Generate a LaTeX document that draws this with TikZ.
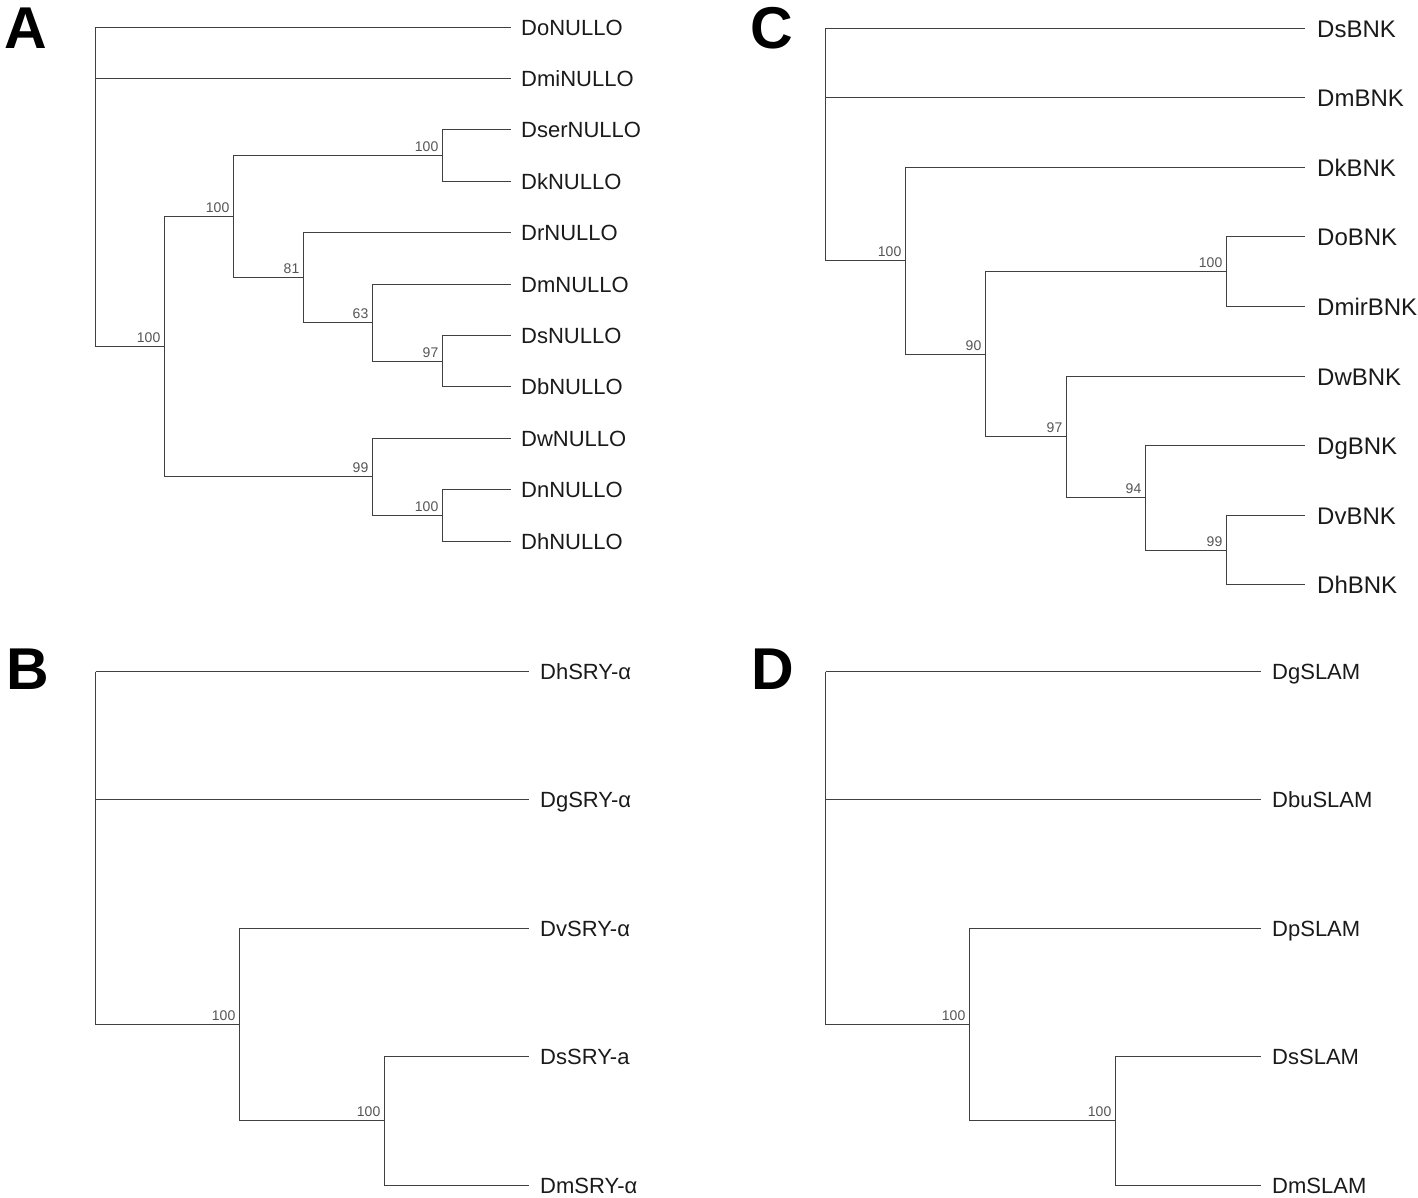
\documentclass[tikz,border=0pt]{standalone}
\usepackage{fontspec}
\setmainfont{Liberation Sans}
\definecolor{linec}{HTML}{404040}
\definecolor{labc}{HTML}{1A1A1A}
\definecolor{bootc}{HTML}{555555}
\begin{document}
\begin{tikzpicture}[x=1pt,y=-1pt,
  br/.style={draw=linec, line width=1.25pt},
  leafA/.style={anchor=west, inner xsep=10.5pt, inner ysep=0pt, text height=15.8pt, text depth=0pt, font=\fontsize{22}{22}\selectfont, text=labc},
  leafC/.style={leafA, inner xsep=12.5pt, text height=17.2pt, font=\fontsize{24}{24}\selectfont},
  boot/.style={anchor=base east, inner sep=0pt, xshift=-4pt, yshift=4pt, font=\fontsize{14}{14}\selectfont, text=bootc},
  panel/.style={anchor=base west, inner sep=0pt, font=\fontsize{59}{59}\selectfont\bfseries, text=black}]
\useasboundingbox (0,0) rectangle (1418,1198);

% ---------------- Panel A ----------------
\node[panel] (PA) at (4,49) {A};
\coordinate (Ar) at (95.5,27.5);
\coordinate (An1) at (164.5,346.5);
\coordinate (An2) at (233.5,216.5);
\coordinate (An3) at (442.5,155.5);
\coordinate (An4) at (303.5,277.5);
\coordinate (An5) at (372.5,322.5);
\coordinate (An6) at (442.5,361.5);
\coordinate (An7) at (372.5,476.5);
\coordinate (An8) at (442.5,515.5);
\node[leafA] (Ado)   at (510.5,27.5)  {DoNULLO};
\node[leafA] (Admi)  at (510.5,78.5)  {DmiNULLO};
\node[leafA] (Adser) at (510.5,129.5) {DserNULLO};
\node[leafA] (Adk)   at (510.5,181.5) {DkNULLO};
\node[leafA] (Adr)   at (510.5,232.5) {DrNULLO};
\node[leafA] (Adm)   at (510.5,284.5) {DmNULLO};
\node[leafA] (Ads)   at (510.5,335.5) {DsNULLO};
\node[leafA] (Adb)   at (510.5,386.5) {DbNULLO};
\node[leafA] (Adw)   at (510.5,438.5) {DwNULLO};
\node[leafA] (Adn)   at (510.5,489.5) {DnNULLO};
\node[leafA] (Adh)   at (510.5,541.5) {DhNULLO};
\draw[br] (Ar) |- (Ado.west);
\draw[br] (Ar) |- (Admi.west);
\draw[br] (Ar) |- (An1);
\draw[br] (An1) |- (An2);
\draw[br] (An1) |- (An7);
\draw[br] (An2) |- (An3);
\draw[br] (An2) |- (An4);
\draw[br] (An3) |- (Adser.west);
\draw[br] (An3) |- (Adk.west);
\draw[br] (An4) |- (Adr.west);
\draw[br] (An4) |- (An5);
\draw[br] (An5) |- (Adm.west);
\draw[br] (An5) |- (An6);
\draw[br] (An6) |- (Ads.west);
\draw[br] (An6) |- (Adb.west);
\draw[br] (An7) |- (Adw.west);
\draw[br] (An7) |- (An8);
\draw[br] (An8) |- (Adn.west);
\draw[br] (An8) |- (Adh.west);
\node[boot] (Ab1) at (An1) {100};
\node[boot] (Ab2) at (An2) {100};
\node[boot] (Ab3) at (An3) {100};
\node[boot] (Ab4) at (An4) {81};
\node[boot] (Ab5) at (An5) {63};
\node[boot] (Ab6) at (An6) {97};
\node[boot] (Ab7) at (An7) {99};
\node[boot] (Ab8) at (An8) {100};

% ---------------- Panel C ----------------
\node[panel] (PC) at (750,49) {C};
\coordinate (Cr) at (825.5,28.5);
\coordinate (Cn1) at (905.5,260.5);
\coordinate (Cn2) at (985.5,354.5);
\coordinate (Cn3) at (1226.5,271.5);
\coordinate (Cn4) at (1066.5,436.5);
\coordinate (Cn5) at (1145.5,497.5);
\coordinate (Cn6) at (1226.5,550.5);
\node[leafC] (Cds)   at (1304.5,28.5)  {DsBNK};
\node[leafC] (Cdm)   at (1304.5,97.5)  {DmBNK};
\node[leafC] (Cdk)   at (1304.5,167.5) {DkBNK};
\node[leafC] (Cdo)   at (1304.5,236.5) {DoBNK};
\node[leafC] (Cdmir) at (1304.5,306.5) {DmirBNK};
\node[leafC] (Cdw)   at (1304.5,376.5) {DwBNK};
\node[leafC] (Cdg)   at (1304.5,445.5) {DgBNK};
\node[leafC] (Cdv)   at (1304.5,515.5) {DvBNK};
\node[leafC] (Cdh)   at (1304.5,584.5) {DhBNK};
\draw[br] (Cr) |- (Cds.west);
\draw[br] (Cr) |- (Cdm.west);
\draw[br] (Cr) |- (Cn1);
\draw[br] (Cn1) |- (Cdk.west);
\draw[br] (Cn1) |- (Cn2);
\draw[br] (Cn2) |- (Cn3);
\draw[br] (Cn2) |- (Cn4);
\draw[br] (Cn3) |- (Cdo.west);
\draw[br] (Cn3) |- (Cdmir.west);
\draw[br] (Cn4) |- (Cdw.west);
\draw[br] (Cn4) |- (Cn5);
\draw[br] (Cn5) |- (Cdg.west);
\draw[br] (Cn5) |- (Cn6);
\draw[br] (Cn6) |- (Cdv.west);
\draw[br] (Cn6) |- (Cdh.west);
\node[boot] (Cb1) at (Cn1) {100};
\node[boot] (Cb2) at (Cn2) {90};
\node[boot] (Cb3) at (Cn3) {100};
\node[boot] (Cb4) at (Cn4) {97};
\node[boot] (Cb5) at (Cn5) {94};
\node[boot] (Cb6) at (Cn6) {99};

% ---------------- Panel B ----------------
\node[panel] (PB) at (6,689) {B};
\coordinate (Br) at (95.5,671.5);
\coordinate (Bn1) at (239.5,1024.5);
\coordinate (Bn2) at (384.5,1120.5);
\node[leafA, inner xsep=11.5pt] (Bdh) at (528.5,671.5)  {DhSRY-α};
\node[leafA, inner xsep=11.5pt] (Bdg) at (528.5,799.5)  {DgSRY-α};
\node[leafA, inner xsep=11.5pt] (Bdv) at (528.5,928.5)  {DvSRY-α};
\node[leafA, inner xsep=11.5pt] (Bds) at (528.5,1056.5) {DsSRY-a};
\node[leafA, inner xsep=11.5pt] (Bdm) at (528.5,1185.5) {DmSRY-α};
\draw[br] (Br) |- (Bdh.west);
\draw[br] (Br) |- (Bdg.west);
\draw[br] (Br) |- (Bn1);
\draw[br] (Bn1) |- (Bdv.west);
\draw[br] (Bn1) |- (Bn2);
\draw[br] (Bn2) |- (Bds.west);
\draw[br] (Bn2) |- (Bdm.west);
\node[boot] (Bb1) at (Bn1) {100};
\node[boot] (Bb2) at (Bn2) {100};

% ---------------- Panel D ----------------
\node[panel] (PD) at (751,689) {D};
\coordinate (Dr) at (825.5,671.5);
\coordinate (Dn1) at (969.5,1024.5);
\coordinate (Dn2) at (1115.5,1120.5);
\node[leafA, inner xsep=11.5pt] (Ddg)  at (1260.5,671.5)  {DgSLAM};
\node[leafA, inner xsep=11.5pt] (Ddbu) at (1260.5,799.5)  {DbuSLAM};
\node[leafA, inner xsep=11.5pt] (Ddp)  at (1260.5,928.5)  {DpSLAM};
\node[leafA, inner xsep=11.5pt] (Dds)  at (1260.5,1056.5) {DsSLAM};
\node[leafA, inner xsep=11.5pt] (Ddm)  at (1260.5,1185.5) {DmSLAM};
\draw[br] (Dr) |- (Ddg.west);
\draw[br] (Dr) |- (Ddbu.west);
\draw[br] (Dr) |- (Dn1);
\draw[br] (Dn1) |- (Ddp.west);
\draw[br] (Dn1) |- (Dn2);
\draw[br] (Dn2) |- (Dds.west);
\draw[br] (Dn2) |- (Ddm.west);
\node[boot] (Db1) at (Dn1) {100};
\node[boot] (Db2) at (Dn2) {100};
\end{tikzpicture}
\end{document}
